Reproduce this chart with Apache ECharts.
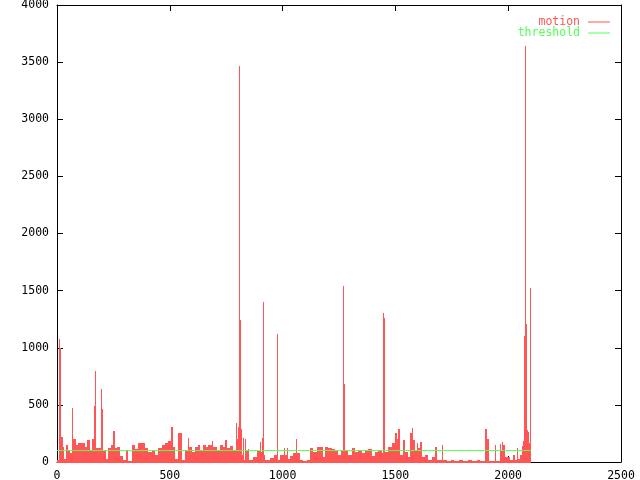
<!DOCTYPE html>
<html><head><meta charset="utf-8">
<script src="https://cdn.jsdelivr.net/npm/echarts@6/dist/echarts.min.js"></script>
<style>html,body{margin:0;padding:0;background:#fff}#c{width:640px;height:480px}</style>
</head><body><div id="c"></div>
<script>
const xTicks = [0, 500, 1000, 1500, 2000, 2500];
const yTicks = [0, 500, 1000, 1500, 2000, 2500, 3000, 3500, 4000];
// motion: step starts (frame index) and values; last x is the end of the data
const motionX = [0,9,11,14,16,25,32,40,50,58,67,71,83,95,109,124,134,146,155,165,169,173,195,199,204,217,227,238,249,255,264,279,294,305,316,331,346,360,375,390,405,420,434,449,464,479,493,504,513,523,538,553,567,582,587,597,612,626,634,649,661,671,686,693,708,723,737,745,752,767,781,794,798,803,807,811,816,820,824,829,833,838,848,853,870,885,900,904,909,913,917,922,944,962,975,979,988,1006,1011,1021,1025,1033,1048,1060,1064,1077,1092,1107,1121,1136,1151,1181,1188,1203,1218,1232,1247,1258,1268,1272,1277,1291,1306,1321,1336,1351,1365,1380,1395,1410,1424,1439,1445,1450,1454,1469,1484,1498,1506,1513,1520,1535,1543,1557,1565,1572,1580,1587,1594,1601,1609,1616,1631,1646,1661,1676,1683,1705,1713,1730,1745,1760,1780,1800,1820,1840,1860,1875,1897,1904,1915,1941,1945,1964,1968,1973,1978,1984,2008,2023,2030,2038,2045,2053,2060,2067,2070,2074,2079,2083,2088,2092,2097,2101];
const motionY = [17,370,1080,1000,215,135,30,145,105,80,470,200,150,170,165,135,190,105,205,490,800,120,640,460,105,25,120,150,270,120,135,50,17,105,12,150,110,170,165,120,90,105,60,120,150,165,180,310,135,30,250,17,105,207,135,90,135,150,105,150,134,150,181,134,105,150,134,190,120,140,105,340,200,310,3466,1243,289,60,210,15,200,100,110,15,45,100,175,90,210,1403,60,15,35,60,1118,15,60,125,60,125,30,50,80,200,80,20,12,17,120,90,135,45,135,120,115,95,60,105,1540,683,105,60,120,90,105,75,105,115,50,90,105,75,1304,1260,90,135,170,250,205,290,60,190,90,45,250,295,190,105,170,120,175,45,60,20,45,135,17,150,17,10,20,12,17,10,17,12,20,10,290,200,10,150,10,160,105,175,150,40,17,60,20,120,25,60,140,180,1103,3641,1208,280,262,170,1526];
const thresholdX = [0, 2101];
const thresholdY = [100, 100];

const font = '"DejaVu Sans Mono", monospace';
const RED = '#ff5555', GREEN = '#55ff55';
const motionData = motionY.map((v, i) => [motionX[i], motionX[i + 1], v]);
const thresholdData = thresholdX.map((x, i) => [x, thresholdY[i]]);

function xAx(pos, labels) {
  return {type:'value', position:pos, min:xTicks[0], max:xTicks[xTicks.length-1], interval:xTicks[1]-xTicks[0],
    axisLine:{show:true, onZero:false, lineStyle:{color:'#000', width:1}},
    axisTick:{show:true, inside:true, length:6, lineStyle:{color:'#000', width:1}},
    axisLabel:{show:labels, color:'#000', fontFamily:font, fontSize:11.5, margin:8, formatter:v => String(v)},
    splitLine:{show:false}};
}
function yAx(pos, labels) {
  return {type:'value', position:pos, min:yTicks[0], max:yTicks[yTicks.length-1], interval:yTicks[1]-yTicks[0],
    axisLine:{show:true, onZero:false, lineStyle:{color:'#000', width:1}},
    axisTick:{show:true, inside:true, length:6, lineStyle:{color:'#000', width:1}},
    axisLabel:{show:labels, color:'#000', fontFamily:font, fontSize:11.5, margin:8, formatter:v => String(v)},
    splitLine:{show:false}};
}
const chart = echarts.init(document.getElementById('c'), null, {renderer:'canvas'});
chart.setOption({
  animation:false,
  backgroundColor:'#fff',
  grid:{left:57, right:19, top:5, bottom:18, containLabel:false, outerBoundsMode:'none'},
  xAxis:[xAx('bottom', true), xAx('top', false)],
  yAxis:[yAx('left', true), yAx('right', false)],
  legend:{orient:'vertical', right:30, top:16, padding:0, align:'right', itemWidth:22, itemHeight:1, icon:'rect', itemGap:-1,
    selectedMode:false,
    textStyle:{fontFamily:font, fontSize:11.5, lineHeight:11, padding:[0,3,0,0]},
    data:[{name:'motion', textStyle:{color:RED}}, {name:'threshold', textStyle:{color:GREEN}}]},
  series:[
    {type:'custom', name:'motion', data:motionData, xAxisIndex:0, yAxisIndex:0, z:2,
      itemStyle:{color:RED},
      encode:{x:[0,1], y:2},
      renderItem:function(params, api){
        const top = api.coord([api.value(0), api.value(2)]);
        const base = api.coord([api.value(1), 0]);
        const x0 = Math.round(top[0]);
        const x1 = Math.max(x0 + 1, Math.round(base[0]));
        const y0 = Math.round(top[1]);
        const y1 = Math.round(base[1]) + 1;
        return {type:'rect', shape:{x:x0, y:y0, width:x1 - x0, height:y1 - y0}, style:{fill:RED}};
      }},
    {type:'line', name:'threshold', data:thresholdData, symbol:'none', xAxisIndex:0, yAxisIndex:0,
      lineStyle:{color:GREEN, width:1}, itemStyle:{color:GREEN}, z:3}
  ]
});
</script></body></html>
